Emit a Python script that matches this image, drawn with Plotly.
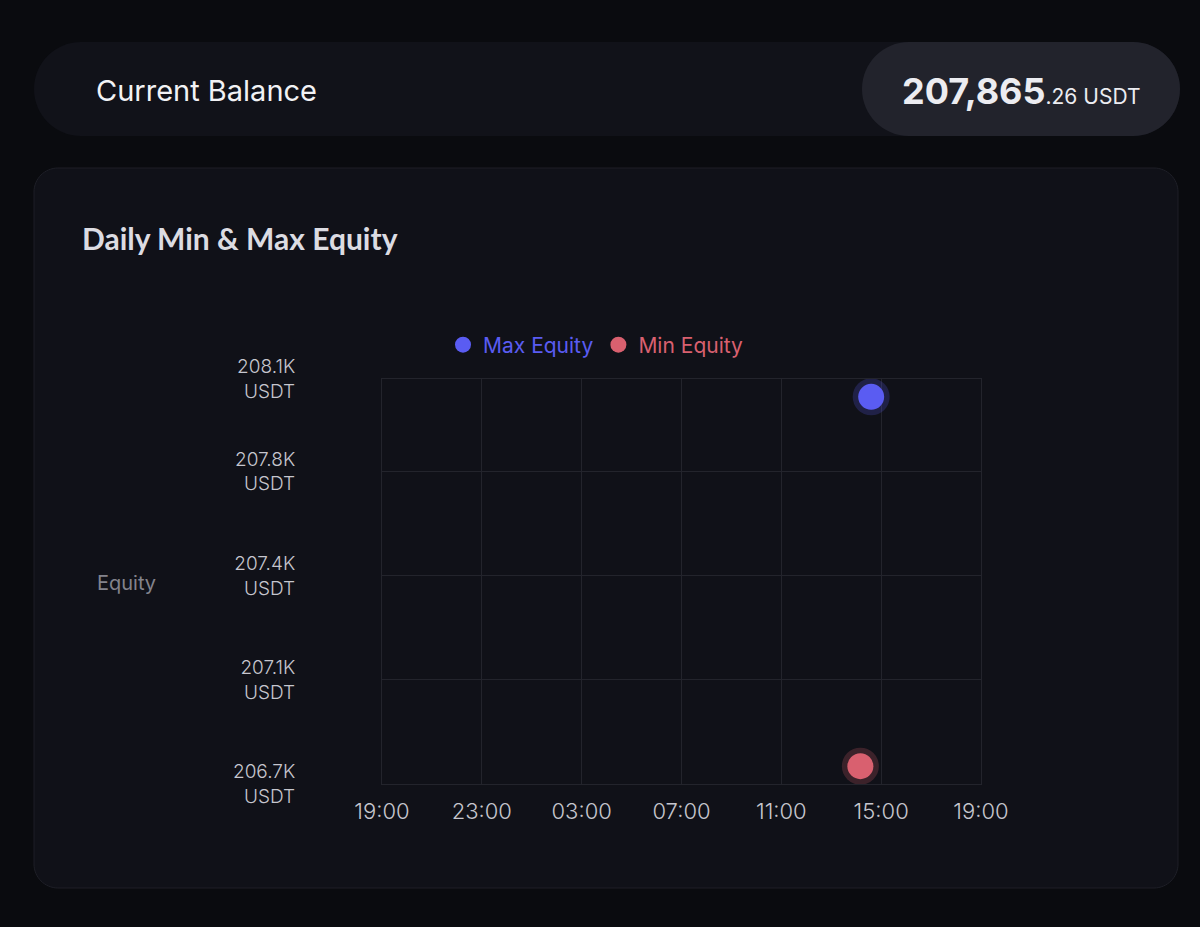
import plotly.graph_objects as go

W, H = 1200, 927

# data
max_time = ["2024-01-02 14:36"]
max_equity = [208000]
min_time = ["2024-01-02 14:10"]
min_equity = [206760]

x_ticks = ["2024-01-01 19:00", "2024-01-01 23:00", "2024-01-02 03:00", "2024-01-02 07:00",
           "2024-01-02 11:00", "2024-01-02 15:00", "2024-01-02 19:00"]
x_labels = ["19:00", "23:00", "03:00", "07:00", "11:00", "15:00", "19:00"]
y_ticks = [206700, 207050, 207400, 207750, 208060]
y_labels = ["206.7K<br>USDT", "207.1K<br>USDT", "207.4K<br>USDT", "207.8K<br>USDT", "208.1K<br>USDT"]

BLUE = "#5a5cf2"
PINK = "#d9606f"


def px(x):
    return x / W


def py(y):
    return 1 - y / H


def rounded_rect(x0, y0, x1, y1, r):
    # rounded box in pixels -> svg path in paper coords
    k = 0.5523 * r
    pts = [
        ("M", [(x0 + r, y0)]),
        ("L", [(x1 - r, y0)]),
        ("C", [(x1 - r + k, y0), (x1, y0 + r - k), (x1, y0 + r)]),
        ("L", [(x1, y1 - r)]),
        ("C", [(x1, y1 - r + k), (x1 - r + k, y1), (x1 - r, y1)]),
        ("L", [(x0 + r, y1)]),
        ("C", [(x0 + r - k, y1), (x0, y1 - r + k), (x0, y1 - r)]),
        ("L", [(x0, y0 + r)]),
        ("C", [(x0, y0 + r - k), (x0 + r - k, y0), (x0 + r, y0)]),
    ]
    s = ""
    for cmd, ps in pts:
        s += cmd + " ".join(f"{px(a):.5f},{py(b):.5f}" for a, b in ps) + " "
    return s + "Z"


fig = go.Figure()

# halos
fig.add_trace(go.Scatter(x=max_time, y=max_equity, mode="markers", showlegend=False, hoverinfo="skip",
                         marker=dict(size=37, color="rgba(90,92,242,0.22)")))
fig.add_trace(go.Scatter(x=min_time, y=min_equity, mode="markers", showlegend=False, hoverinfo="skip",
                         marker=dict(size=37, color="rgba(217,96,111,0.22)")))

fig.add_trace(go.Scatter(x=max_time, y=max_equity, mode="markers",
                         name=f"<span style='color:{BLUE}'>Max Equity</span>",
                         marker=dict(size=26, color=BLUE)))
fig.add_trace(go.Scatter(x=min_time, y=min_equity, mode="markers",
                         name=f"<span style='color:{PINK}'>Min Equity</span>",
                         marker=dict(size=26, color=PINK)))

shapes = [
    dict(type="path", xref="paper", yref="paper", path=rounded_rect(34, 42, 1180, 136, 47),
         fillcolor="#111219", line=dict(width=0), layer="below"),
    dict(type="path", xref="paper", yref="paper", path=rounded_rect(862, 42, 1180, 136, 47),
         fillcolor="#22232c", line=dict(width=0), layer="below"),
    dict(type="path", xref="paper", yref="paper", path=rounded_rect(34, 168, 1178, 888, 24),
         fillcolor="#101118", line=dict(width=1, color="#1e1f27"), layer="below"),
]

annotations = [
    dict(x=px(94), y=py(91), xref="paper", yref="paper", xanchor="left", yanchor="middle",
         text="Current Balance", showarrow=False,
         font=dict(family="Inter", size=29, color="#f2f2f5")),
    dict(x=px(900), y=py(91), xref="paper", yref="paper", xanchor="left", yanchor="middle",
         text="<b>207,865</b><span style='font-size:21px'>.26 USDT</span>", showarrow=False,
         font=dict(family="Inter", size=36, color="#ececf1")),
    dict(x=px(80), y=py(238), xref="paper", yref="paper", xanchor="left", yanchor="middle",
         text="<b>Daily Min & Max Equity</b>", showarrow=False,
         font=dict(family="Lato", size=30, color="#dcdce2")),
    dict(x=px(95), y=py(583), xref="paper", yref="paper", xanchor="left", yanchor="middle",
         text="Equity", showarrow=False,
         font=dict(family="Inter", size=20, color="#83838c")),
]

fig.update_layout(
    width=W, height=H,
    margin=dict(l=0, r=0, t=0, b=0, pad=0, autoexpand=False),
    paper_bgcolor="#0a0b0f",
    plot_bgcolor="#101118",
    shapes=shapes,
    annotations=annotations,
    showlegend=True,
    legend=dict(orientation="h", x=px(596), y=py(345), xanchor="center", yanchor="middle",
                font=dict(family="Inter", size=21), bgcolor="rgba(0,0,0,0)"),
    xaxis=dict(
        domain=[px(382), px(981)], type="date", automargin=False,
        range=[x_ticks[0], x_ticks[-1]],
        tickvals=x_ticks, ticktext=x_labels,
        showgrid=True, gridcolor="#23242c", gridwidth=1,
        showline=True, linecolor="#23242c", mirror=True,
        zeroline=False, ticks="", ticklabelstandoff=8,
        tickfont=dict(family="Inter", size=22, color="#c6c6ce", weight=300),
    ),
    yaxis=dict(
        domain=[py(784), py(379)], automargin=False,
        range=[y_ticks[0], y_ticks[-1]],
        tickvals=y_ticks, ticktext=y_labels,
        showgrid=True, gridcolor="#23242c", gridwidth=1,
        showline=True, linecolor="#23242c", mirror=True,
        zeroline=False, ticks="", ticklabelstandoff=82,
        tickfont=dict(family="Inter", size=19, color="#c6c6ce", weight=300),
    ),
)

fig.write_html("out.html", config={"displayModeBar": False},
               post_script="document.body.style.margin='0';document.body.style.background='#0a0b0f';")
